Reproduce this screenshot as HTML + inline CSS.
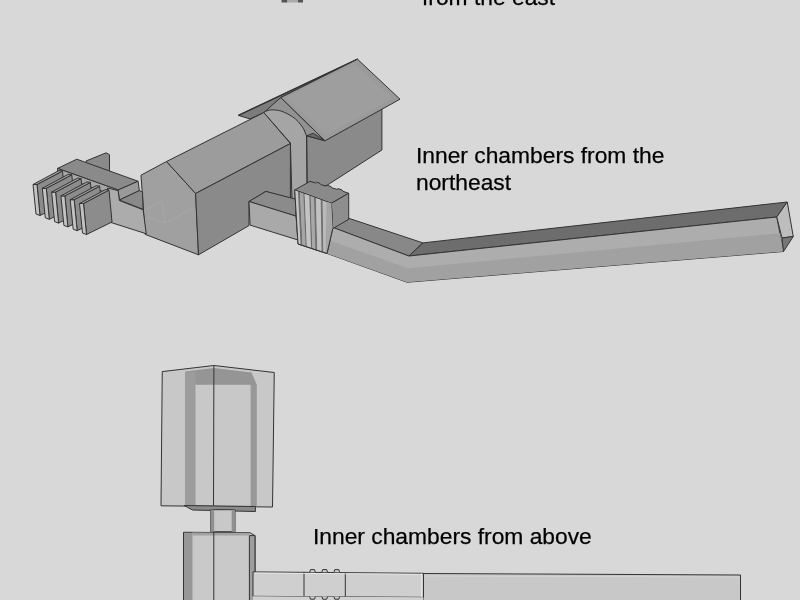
<!DOCTYPE html>
<html><head><meta charset="utf-8">
<style>
html,body{margin:0;padding:0;width:800px;height:600px;overflow:hidden;background:#d8d8d8;}
.t{position:absolute;font-family:"Liberation Sans",sans-serif;font-size:22.8px;color:#000;white-space:nowrap;line-height:27px;will-change:transform;-webkit-text-stroke:0.25px #000;}
svg{position:absolute;left:0;top:0;}
</style></head><body>
<svg width="800" height="600" viewBox="0 0 800 600" stroke-linejoin="round">
<!-- tiny top object -->
<g stroke="none">
<rect x="281.5" y="0" width="6" height="2.5" fill="#555"/>
<rect x="287.5" y="0" width="10.5" height="2.5" fill="#aaa"/>
<rect x="298" y="0" width="5" height="2.5" fill="#555"/>
</g>
<g stroke="#333" stroke-width="1">
<!-- roofed chamber -->
<polygon points="306.5,135.5 325.6,140 381.9,108.5 381.9,150 326.7,185.5 307,190" fill="#8a8a8a"/>
<polygon points="250,118.9 280.8,97.5 325,140.8 306.7,135.8 307,200 290,200 263.75,112.6" fill="#929292"/>
<polygon points="306.7,135.8 325,140.8 313.3,133.3" fill="#6a6a6a"/>
<polygon points="238.4,115.4 357.5,59.2 280.8,97.5 263.75,112.6 250,118.9" fill="#7c7c7c"/>
<line x1="238.4" y1="115.4" x2="357.5" y2="59.2" stroke="#333" stroke-width="1.4"/>
<polygon points="280.8,97.5 357.5,59.2 400,99.2 325,140.8" fill="#9a9a9a"/>
<polygon points="286,97.5 355,64 393,98.5 326,135.5" fill="#9e9e9e" stroke="none"/>
<path d="M263.75,112.6 C266,111 268,110.1 272,109.8 C276,109.8 281,110.5 285,112.6 C291,115.5 295,118 298.3,121.7 C301,125 303,127.5 304.2,130 L306.5,136 L307,200 L292,200 L290.4,143 Z" fill="#a5a5a5"/>
<!-- main building -->
<polygon points="166.5,161.5 141,175.2 145.2,234.4 198.5,254.8 195.6,193.5" fill="#a0a0a0"/>
<polygon points="166.5,161.5 263.75,112.6 290.4,143.5 195.6,193.5" fill="#9c9c9c"/>
<polygon points="195.6,193.5 290.4,143.5 290.4,200 265.9,191.4 249,201.5 249,225.6 198.5,254.8" fill="#8a8a8a"/>
<polyline points="147,209 162,201.5 165,223 194,208" fill="none" stroke="#aaaaaa" stroke-width="0.8"/>
<polyline points="147,217 165,223" fill="none" stroke="#aaaaaa" stroke-width="0.8"/>
<!-- corridor right of building -->
<polygon points="249,201.5 265.9,191.4 296,199.25 296,216.1" fill="#8b8b8b"/>
<polygon points="249,201.5 296,216.1 298,240 250.1,225.1" fill="#a9a9a9"/>
<!-- long corridor -->
<polygon points="332.25,227.4 349.1,218.4 422.9,242.9 408.9,256" fill="#888888"/>
<polygon points="408.9,256 422.9,242.9 787.25,202 776.75,217" fill="#6d6d6d"/>
<polygon points="326.6,225 408.9,256 776.75,217 783.5,251.5 407.1,282.25 326.6,253.25" fill="#adadad"/>
<polygon points="329.5,240.4 408,268.3 780,233.2 783.5,251.5 407.1,282.25 327,253.5" fill="#a1a1a1" stroke="none"/>
<polygon points="776.75,217 787.25,202 793.25,236.5 782,238" fill="#bdbdbd"/>
<polygon points="782,238 793.25,236.5 783.5,251.5" fill="#767676"/>
<!-- portcullis block -->
<polygon points="294.7,190 310,181.3 315.5,183 316.5,182.2 320,183.4 320.8,184.6 326,186 327,185.2 331,186.6 331.8,187.8 337,189.4 338,188.6 342,190 343,191.3 348.7,193.3 331.3,203.3" fill="#8a8a8a"/>
<polygon points="331.3,203.3 348.7,193.3 348.7,219.3 332.7,228.7" fill="#8e8e8e"/>
<polygon points="294.7,190 331.3,203.3 332.7,228.7 327,253.5 298,244" fill="#b8b8b8"/>
<polygon points="294.7,190.3 298.0,191.5 300.7,244.2 297.7,243.2" fill="#c6c6c6" stroke="none"/>
<polygon points="298.0,191.5 300.0,192.2 302.6,246.0 300.7,245.4" fill="#6e6e6e" stroke="none"/>
<polygon points="300.0,192.2 303.3,193.4 305.6,245.8 302.6,244.8" fill="#a6a6a6" stroke="none"/>
<polygon points="303.3,193.4 304.7,193.9 306.9,247.5 305.6,247.0" fill="#707070" stroke="none"/>
<polygon points="304.7,193.9 309.3,195.6 311.1,247.7 306.9,246.3" fill="#c4c4c4" stroke="none"/>
<polygon points="309.3,195.6 310.7,196.1 312.4,249.3 311.1,248.9" fill="#6e6e6e" stroke="none"/>
<polygon points="310.7,196.1 314.0,197.3 315.4,249.1 312.4,248.1" fill="#a8a8a8" stroke="none"/>
<polygon points="314.0,197.3 316.0,198.0 317.3,251.0 315.4,250.3" fill="#707070" stroke="none"/>
<polygon points="316.0,198.0 320.7,199.7 321.6,251.2 317.3,249.8" fill="#c2c2c2" stroke="none"/>
<polygon points="320.7,199.7 322.7,200.5 323.4,253.0 321.6,252.4" fill="#727272" stroke="none"/>
<polygon points="322.7,200.5 326.7,201.9 327.0,253.1 323.4,251.8" fill="#bababa" stroke="none"/>
<polygon points="326.7,201.9 331.3,203.6 327.0,254.5 327.1,253.1" fill="#a6a6a6" stroke="none"/>
<polygon points="326.7,202 331.3,203.3 332.7,228.7 327,253.5 325.5,253" fill="#a6a6a6" stroke="none"/>
<polyline points="294.7,190 298,244 327,253.5 332.7,228.7" fill="none"/>
<!-- crossbar and combs -->
<polygon points="86,161 106.2,152.8 109.5,154.7 109.5,175 86,175" fill="#8a8a8a"/>
<polygon points="57.6,168.4 76.8,159.2 138.1,181.25 118.1,190" fill="#8a8a8a"/>
<polygon points="57.6,168.4 118.1,190 118.1,197 57.6,175" fill="#a8a8a8"/>
<polygon points="118.1,190 138.1,181.25 139.4,190.6 119.4,200" fill="#9a9a9a"/>
<polygon points="119.4,200 139.4,190.6 142.5,192 143.1,209.4" fill="#8a8a8a"/>
<polygon points="107.5,188 118.1,190.6 119.4,200.6 143.1,209.75 146.25,233.75 111,222.5" fill="#acacac"/>
</g>
<g id="combs" stroke="#333" stroke-width="1">
<polygon points="37.0,184.5 62.5,171.0 65.5,203.0 40.0,215.5" fill="#8c8c8c"/>
<polygon points="33.0,184.5 37.0,184.5 40.0,215.5 36.0,214.0" fill="#c2c2c2"/>
<polygon points="33.0,184.5 59.0,170.5 62.5,171.0 37.0,184.5" fill="#a0a0a0"/>
<polygon points="46.3,188.3 71.8,174.8 74.8,206.8 49.3,219.3" fill="#8c8c8c"/>
<polygon points="42.3,188.3 46.3,188.3 49.3,219.3 45.3,217.8" fill="#c2c2c2"/>
<polygon points="42.3,188.3 68.3,174.3 71.8,174.8 46.3,188.3" fill="#a0a0a0"/>
<polygon points="55.6,192.1 81.1,178.6 84.1,210.6 58.6,223.1" fill="#8c8c8c"/>
<polygon points="51.6,192.1 55.6,192.1 58.6,223.1 54.6,221.6" fill="#c2c2c2"/>
<polygon points="51.6,192.1 77.6,178.1 81.1,178.6 55.6,192.1" fill="#a0a0a0"/>
<polygon points="64.9,195.9 90.4,182.4 93.4,214.4 67.9,226.9" fill="#8c8c8c"/>
<polygon points="60.9,195.9 64.9,195.9 67.9,226.9 63.9,225.4" fill="#c2c2c2"/>
<polygon points="60.9,195.9 86.9,181.9 90.4,182.4 64.9,195.9" fill="#a0a0a0"/>
<polygon points="74.2,199.7 99.7,186.2 102.7,218.2 77.2,230.7" fill="#8c8c8c"/>
<polygon points="70.2,199.7 74.2,199.7 77.2,230.7 73.2,229.2" fill="#c2c2c2"/>
<polygon points="70.2,199.7 96.2,185.7 99.7,186.2 74.2,199.7" fill="#a0a0a0"/>
<polygon points="83.5,203.5 109.0,190.0 112.0,222.0 86.5,234.5" fill="#8c8c8c"/>
<polygon points="79.5,203.5 83.5,203.5 86.5,234.5 82.5,233.0" fill="#c2c2c2"/>
<polygon points="79.5,203.5 105.5,189.5 109.0,190.0 83.5,203.5" fill="#a0a0a0"/>
</g>
<!-- bottom model -->
<g stroke="#333" stroke-width="1">
<polygon points="162.25,371.6 213.9,365.5 274.25,372.5 272.5,507 161,505.8" fill="#c8c8c8"/>
<polygon points="185,371.6 213.9,368 251.5,372.5 256.75,384.75 195.5,384.75" fill="#959595" stroke="none"/>
<rect x="185" y="372" width="10.5" height="134" fill="#9c9c9c" stroke="none"/>
<rect x="250.6" y="384" width="6.2" height="122.5" fill="#989898" stroke="none"/>
<line x1="213.9" y1="365.5" x2="213.5" y2="506" />
<polygon points="184.2,505.5 255.4,506.5 255.4,511.5 192.5,510" fill="#8a8a8a"/>
<rect x="210.8" y="509.7" width="24.2" height="22" fill="#c8c8c8"/>
<rect x="210.8" y="509.7" width="3.4" height="22" fill="#909090" stroke="none"/>
<rect x="231.7" y="509.7" width="3.3" height="22" fill="#909090" stroke="none"/>
<polygon points="183.5,532.25 250,532.75 255,535.6 255,601 183.5,601" fill="#c9c9c9"/>
<rect x="184" y="533" width="8.5" height="68" fill="#979797" stroke="none"/>
<polygon points="192.5,532.6 250,532.9 249.4,535.6 192.5,535.6" fill="#a2a2a2" stroke="none"/>
<polygon points="249.4,535.6 255,535.6 255,601 249.4,601" fill="#9e9e9e"/>
<line x1="213.8" y1="532" x2="213.8" y2="601"/>
<polygon points="253,571.9 423.5,573.3 423.5,597.3 253,596.3" fill="#cfcfcf"/>
<polygon points="423.5,573.5 740.5,575 740.5,601 423.5,601" fill="#c8c8c8"/>
<line x1="421.5" y1="573.5" x2="421.5" y2="597" stroke="#e4e4e4"/>
<line x1="304" y1="571.9" x2="304" y2="596.7"/>
<line x1="345.3" y1="572.3" x2="345.3" y2="597"/>
<line x1="254.5" y1="573" x2="421" y2="574.3" stroke="#ececec" stroke-width="0.8"/>
<line x1="425" y1="576" x2="739" y2="577" stroke="#d8d8d8" stroke-width="0.8"/>
<polygon points="253,596.3 423.5,597.3 423.5,601 253,601" fill="#d0d0d0" stroke="none"/>
<path d="M309.7,572.2 L310.5,569.6 L314.5,569.6 L315.3,572.3" fill="#cfcfcf"/>
<path d="M309.7,596.6 L310.5,599.2 L314.5,599.2 L315.3,596.7" fill="#cfcfcf"/>
<path d="M321.9,572.2 L322.7,569.6 L326.7,569.6 L327.5,572.3" fill="#cfcfcf"/>
<path d="M321.9,596.6 L322.7,599.2 L326.7,599.2 L327.5,596.7" fill="#cfcfcf"/>
<path d="M334.0,572.2 L334.8,569.6 L338.8,569.6 L339.6,572.3" fill="#cfcfcf"/>
<path d="M334.0,596.6 L334.8,599.2 L338.8,599.2 L339.6,596.7" fill="#cfcfcf"/>
</g>
</svg>
<div class="t" style="left:422px;top:-16.5px">from the east</div>
<div class="t" style="left:416px;top:141.5px">Inner chambers from the<br>northeast</div>
<div class="t" style="left:313px;top:522.5px">Inner chambers from above</div>
</body></html>
